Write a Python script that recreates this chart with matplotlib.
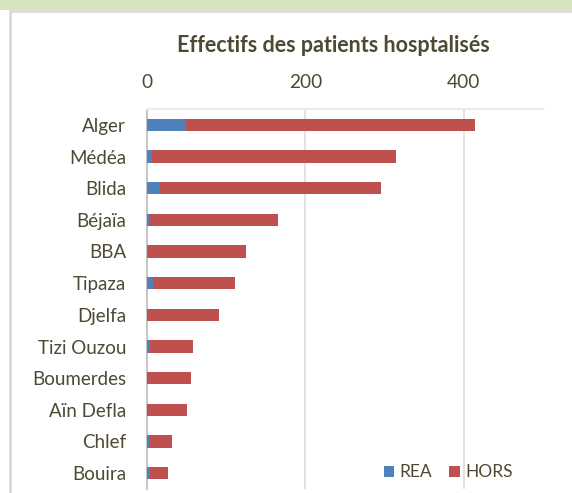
import matplotlib
matplotlib.use("Agg")
import matplotlib.pyplot as plt
from matplotlib.patches import Rectangle
from matplotlib.lines import Line2D

# wilayas, top to bottom
wilayas = ["Alger", "Médéa", "Blida", "Béjaïa", "BBA", "Tipaza", "Djelfa",
           "Tizi Ouzou", "Boumerdes", "Aïn Defla", "Chlef", "Bouira"]
rea = [49, 6, 17, 3, 1, 8, 0, 4, 0, 0, 3, 4]
hors = [365, 308, 279, 162, 124, 103, 91, 54, 55, 51, 29, 22]

txt = "#4d4933"
plt.rcParams['font.family'] = ['Lato', 'DejaVu Sans']

fig = plt.figure(figsize=(5.72, 4.93), dpi=100)

# frame of the original screenshot
fig.patches.append(Rectangle((0, 1 - 10 / 493), 1, 10 / 493, transform=fig.transFigure,
                             facecolor="#d7e4bd", edgecolor="none"))
fig.lines.append(Line2D([10 / 572, 1], [1 - 11 / 493, 1 - 11 / 493], transform=fig.transFigure,
                        color="#d9d9d9", lw=2))
fig.lines.append(Line2D([10 / 572, 10 / 572], [0, 1 - 11 / 493], transform=fig.transFigure,
                        color="#d9d9d9", lw=2))

ax = fig.add_axes([147 / 572, 4 / 493, 396 / 572, 380 / 493])
y = list(range(len(wilayas)))
ax.barh(y, rea, height=0.39, color="#4f81bd", label="REA", zorder=3)
ax.barh(y, hors, left=rea, height=0.39, color="#c0504d", label="HORS", zorder=3)

ax.set_xlim(0, 500)
ax.set_ylim(11.5, -0.5)
ax.set_yticks(y)
ax.set_yticklabels(wilayas)
ax.set_xticks([0, 200, 400])
ax.xaxis.tick_top()
ax.tick_params(axis="x", length=0, pad=13, labelsize=13.8, labelcolor=txt)
ax.tick_params(axis="y", length=0, pad=15, labelsize=13.5, labelcolor=txt)
ax.grid(axis="x", color="#dcdcdc", lw=1.2, zorder=0)

for s in ["right", "bottom"]:
    ax.spines[s].set_visible(False)
ax.spines["top"].set_color("#eeebe3")
ax.spines["top"].set_linewidth(1.5)
ax.spines["left"].set_color("#c8c8c8")
ax.spines["left"].set_linewidth(1.5)

fig.text(333 / 572, 1 - 45 / 493, "Effectifs des patients hosptalisés",
         ha="center", va="center", fontsize=15.5, fontweight="bold", color=txt)

ax.legend(loc="lower right", bbox_to_anchor=(0.945, 0.0), ncol=2, frameon=False,
          fontsize=12.5, labelcolor=txt, handlelength=0.6, handleheight=0.6,
          handletextpad=0.3, columnspacing=1.0, borderaxespad=0.3, borderpad=0.2)

fig.savefig("out.png", dpi=100)
